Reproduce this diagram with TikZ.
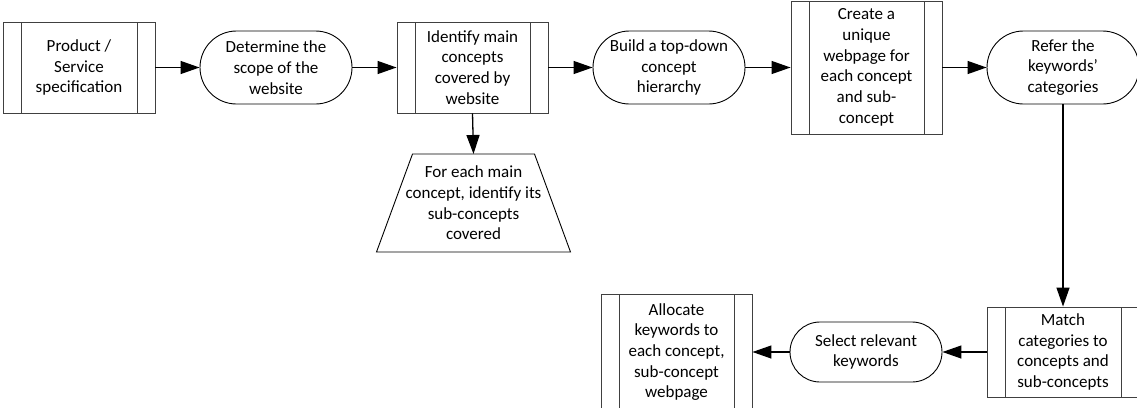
\documentclass[tikz,border=0pt]{standalone}
\usepackage{fontspec}
\setmainfont{Carlito}
\usetikzlibrary{shapes.misc,shapes.geometric,arrows.meta}
\begin{document}
\begin{tikzpicture}[x=1pt,y=-1pt,
  txt/.style={align=center,font=\fontsize{17}{20.7}\selectfont,inner sep=0pt},
  proc/.style={txt,draw=black!75,line width=0.9pt,rectangle,
    path picture={
      \draw[black!75,line width=0.9pt]
        ([xshift=18pt]path picture bounding box.north west) -- ([xshift=18pt]path picture bounding box.south west)
        ([xshift=-18pt]path picture bounding box.north east) -- ([xshift=-18pt]path picture bounding box.south east);
    }},
  term/.style={txt,draw=black,line width=0.9pt,rounded rectangle,minimum width=152pt},
  trap/.style={draw=black,line width=0.9pt},
  flow/.style={line width=1.3pt,-{Triangle[length=19pt,width=13pt]}}
]
\useasboundingbox (0,0) rectangle (1137,407);
\clip (0,0) rectangle (1137,407);

\node[proc,minimum width=152pt,minimum height=91pt] (p1) at (79,67.5) {Product /\\Service\\specification};
\node[term,minimum height=73pt] (s2) at (276,67.5) {Determine the\\scope of the\\website};
\node[proc,minimum width=151pt,minimum height=91pt] (p3) at (472.5,67.5) {Identify main\\concepts\\covered by\\website};
\node[term,minimum height=73pt] (s4) at (669,67.5) {Build a top-down\\concept\\hierarchy};
\node[proc,minimum width=151pt,minimum height=133pt] (p5) at (866.5,67.5) {Create a\\unique\\webpage for\\each concept\\and sub-\\concept};
\node[term,minimum height=73pt] (s6) at (1063,67.5) {Refer the\\keywords’\\categories};
\node[txt] (t7) at (473.5,203) {For each main\\concept, identify its\\sub-concepts\\covered};
\draw[trap] ([shift={(-61,-49)}]t7.center) coordinate (t7nw) -- ([shift={(61,-49)}]t7.center)
  -- ([shift={(97,49)}]t7.center) -- ([shift={(-97,49)}]t7.center) -- cycle;
\coordinate (t7top) at ([shift={(0,-49)}]t7.center);
\node[proc,minimum width=152pt,minimum height=90pt] (p8) at (1063,352) {Match\\categories to\\concepts and\\sub-concepts};
\node[term,minimum height=60pt] (s9) at (866,352) {Select relevant\\keywords};
\node[proc,minimum width=151pt,minimum height=116pt] (p10) at (676.5,352) {Allocate\\keywords to\\each concept,\\sub-concept\\webpage};

\draw[flow] (p1.east) -- (s2.west);
\draw[flow] (s2.east) -- (p3.west);
\draw[flow] (p3.east) -- (s4.west);
\draw[flow] (s4.east) -- (p5.west);
\draw[flow] (p5.east) -- (s6.west);
\draw[flow] (p3.south) -- (t7top);
\draw[flow] (s6.south) -- (p8.north);
\draw[flow] (p8.west) -- (s9.east);
\draw[flow] (s9.west) -- (p10.east);
\end{tikzpicture}
\end{document}
